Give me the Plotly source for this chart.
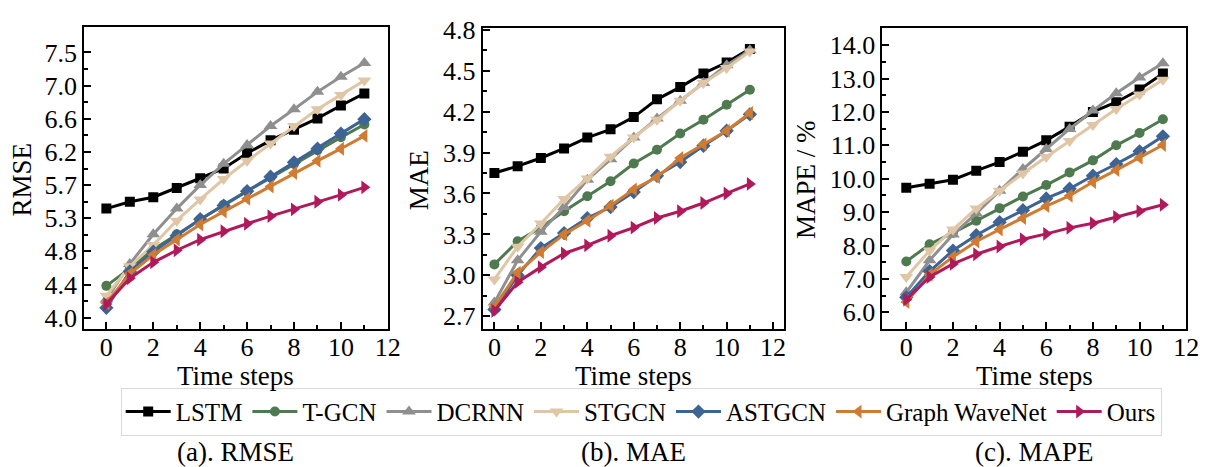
import plotly.graph_objects as go

W, H = 1220, 467
FONT = "Liberation Serif"

steps = list(range(12))
model_names = ["LSTM", "T-GCN", "DCRNN", "STGCN", "ASTGCN", "Graph WaveNet", "Ours"]
model_colors = ["#000000", "#4f7a50", "#8f8f8f", "#dfc6a6", "#3d6494", "#d07b32", "#b01a5a"]
model_symbols = ["square", "circle", "triangle-up", "triangle-down", "diamond", "triangle-left", "triangle-right"]
model_sizes = [10, 10, 12, 12, 11, 12, 12]

# RMSE per horizon
rmse_lstm = [5.44, 5.53, 5.59, 5.71, 5.84, 5.97, 6.17, 6.34, 6.48, 6.63, 6.80, 6.96]
rmse_tgcn = [4.42, 4.65, 4.90, 5.10, 5.30, 5.49, 5.67, 5.85, 6.03, 6.21, 6.38, 6.55]
rmse_dcrnn = [4.24, 4.71, 5.10, 5.44, 5.75, 6.03, 6.28, 6.53, 6.75, 6.98, 7.18, 7.36]
rmse_stgcn = [4.29, 4.68, 4.96, 5.28, 5.56, 5.83, 6.07, 6.30, 6.53, 6.75, 6.94, 7.13]
rmse_astgcn = [4.13, 4.61, 4.87, 5.08, 5.30, 5.48, 5.67, 5.86, 6.05, 6.23, 6.43, 6.62]
rmse_gwn = [4.19, 4.58, 4.83, 5.03, 5.23, 5.40, 5.57, 5.73, 5.91, 6.07, 6.23, 6.40]
rmse_ours = [4.18, 4.52, 4.73, 4.89, 5.03, 5.14, 5.24, 5.34, 5.43, 5.53, 5.62, 5.72]

# MAE per horizon
mae_lstm = [3.75, 3.80, 3.86, 3.93, 4.01, 4.07, 4.16, 4.29, 4.38, 4.48, 4.56, 4.66]
mae_tgcn = [3.08, 3.25, 3.35, 3.47, 3.58, 3.69, 3.82, 3.92, 4.04, 4.14, 4.25, 4.36]
mae_dcrnn = [2.80, 3.11, 3.32, 3.50, 3.70, 3.85, 4.01, 4.15, 4.28, 4.41, 4.54, 4.65]
mae_stgcn = [2.97, 3.21, 3.38, 3.56, 3.71, 3.87, 4.01, 4.14, 4.28, 4.41, 4.52, 4.64]
mae_astgcn = [2.75, 3.00, 3.20, 3.31, 3.42, 3.50, 3.61, 3.73, 3.83, 3.95, 4.06, 4.18]
mae_gwn = [2.77, 3.02, 3.17, 3.30, 3.40, 3.51, 3.63, 3.72, 3.86, 3.96, 4.06, 4.19]
mae_ours = [2.74, 2.95, 3.06, 3.16, 3.22, 3.29, 3.35, 3.42, 3.47, 3.53, 3.60, 3.67]

# MAPE (%) per horizon
mape_lstm = [9.73, 9.85, 9.97, 10.24, 10.50, 10.81, 11.15, 11.56, 12.00, 12.29, 12.67, 13.15]
mape_tgcn = [7.52, 8.04, 8.38, 8.74, 9.12, 9.47, 9.81, 10.19, 10.55, 11.00, 11.37, 11.78]
mape_dcrnn = [6.60, 7.56, 8.33, 8.96, 9.64, 10.29, 10.89, 11.49, 12.04, 12.56, 13.03, 13.46]
mape_stgcn = [7.06, 7.85, 8.48, 9.11, 9.64, 10.16, 10.65, 11.13, 11.61, 12.09, 12.52, 12.96]
mape_astgcn = [6.45, 7.23, 7.85, 8.31, 8.70, 9.06, 9.41, 9.70, 10.09, 10.44, 10.82, 11.27]
mape_gwn = [6.31, 7.13, 7.66, 8.12, 8.48, 8.82, 9.18, 9.49, 9.90, 10.26, 10.63, 11.01]
mape_ours = [6.38, 7.06, 7.45, 7.74, 7.97, 8.19, 8.35, 8.53, 8.67, 8.86, 9.03, 9.22]

rmse_ticks = [4.0, 4.4375, 4.875, 5.3125, 5.75, 6.1875, 6.625, 7.0625, 7.5]
rmse_ticktext = ["4.0", "4.4", "4.8", "5.3", "5.7", "6.2", "6.6", "7.0", "7.5"]
mae_ticks = [2.7, 3.0, 3.3, 3.6, 3.9, 4.2, 4.5, 4.8]
mape_ticks = [6.0, 7.0, 8.0, 9.0, 10.0, 11.0, 12.0, 13.0, 14.0]
x_ticks = [0, 2, 4, 6, 8, 10, 12]

panel_series = [
    [rmse_lstm, rmse_tgcn, rmse_dcrnn, rmse_stgcn, rmse_astgcn, rmse_gwn, rmse_ours],
    [mae_lstm, mae_tgcn, mae_dcrnn, mae_stgcn, mae_astgcn, mae_gwn, mae_ours],
    [mape_lstm, mape_tgcn, mape_dcrnn, mape_stgcn, mape_astgcn, mape_gwn, mape_ours],
]
y_titles = ["RMSE", "MAE", "MAPE / %"]
captions = ["(a). RMSE", "(b). MAE", "(c). MAPE"]

# panel frames in pixels: left, right, top, bottom
frames = [(85, 392, 15, 328), (488, 792, 16, 328), (892, 1199, 16, 328)]
x_ranges = [[-0.95, 12.0], [-0.5, 12.45], [-1.02, 12.0]]
y_ranges = [[3.85, 7.83], [2.606, 4.81], [5.5, 14.5]]


def midpoints(vals):
    return [(a + b) / 2 for a, b in zip(vals[:-1], vals[1:])]


fig = go.Figure()

for p, series in enumerate(panel_series):
    suffix = "" if p == 0 else str(p + 1)
    for i, ys in enumerate(series):
        fig.add_trace(go.Scatter(
            x=steps, y=ys, mode="lines+markers",
            name=model_names[i], legendgroup=model_names[i], showlegend=(p == 0),
            line=dict(color=model_colors[i], width=3),
            marker=dict(symbol=model_symbols[i], size=model_sizes[i], color=model_colors[i]),
            xaxis="x" + suffix, yaxis="y" + suffix,
        ))

axis_common = dict(
    showline=True, linecolor="black", linewidth=2, mirror=True,
    ticks="inside", ticklen=7, tickwidth=2, tickcolor="black",
    showgrid=False, zeroline=False,
    tickfont=dict(family=FONT, size=26, color="black"),
)

layout = {}
for p in range(3):
    l, r, t, b = frames[p]
    suffix = "" if p == 0 else str(p + 1)
    xa = dict(axis_common)
    xa.update(domain=[l / W, r / W], range=x_ranges[p], anchor="y" + suffix,
              tickmode="array", tickvals=x_ticks, ticklabelstandoff=-6,
              minor=dict(tickvals=[1, 3, 5, 7, 9, 11], ticks="inside", ticklen=4,
                         tickwidth=2, tickcolor="black"))
    ya = dict(axis_common)
    if p == 0:
        yt, ytxt = rmse_ticks, rmse_ticktext
    elif p == 1:
        yt, ytxt = mae_ticks, [f"{v:.1f}" for v in mae_ticks]
    else:
        yt, ytxt = mape_ticks, [f"{v:.1f}" for v in mape_ticks]
    ya.update(domain=[1 - b / H, 1 - t / H], range=y_ranges[p], anchor="x" + suffix,
              tickmode="array", tickvals=yt, ticktext=ytxt,
              minor=dict(tickvals=midpoints(yt), ticks="inside", ticklen=4,
                         tickwidth=2, tickcolor="black"))
    layout["xaxis" + suffix] = xa
    layout["yaxis" + suffix] = ya

annotations = []
title_x = [22, 423, 814]
for p in range(3):
    l, r, t, b = frames[p]
    cx = (l + r) / 2
    annotations.append(dict(
        text="Time steps", x=cx / W, y=1 - 377 / H, xref="paper", yref="paper",
        xanchor="center", yanchor="middle", showarrow=False,
        font=dict(family=FONT, size=27, color="black")))
    annotations.append(dict(
        text=y_titles[p], x=title_x[p] / W, y=1 - 173 / H, xref="paper", yref="paper",
        xanchor="center", yanchor="middle", textangle=-90, showarrow=False,
        font=dict(family=FONT, size=27, color="black")))
    annotations.append(dict(
        text=captions[p], x=cx / W, y=1 - 456 / H, xref="paper", yref="paper",
        xanchor="center", yanchor="middle", showarrow=False,
        font=dict(family=FONT, size=27, color="black")))

fig.update_layout(
    **layout,
    annotations=annotations,
    width=W, height=H,
    margin=dict(l=0, r=0, t=0, b=0),
    paper_bgcolor="white", plot_bgcolor="white",
    font=dict(family=FONT, size=24, color="black"),
    legend=dict(
        orientation="h", x=122 / W, y=1 - 389 / H, xanchor="left", yanchor="top",
        bordercolor="#d9d9d9", borderwidth=1, bgcolor="white",
        font=dict(family=FONT, size=25, color="black"),
        itemwidth=45, tracegroupgap=0,
    ),
)

fig.write_html("out.html")
